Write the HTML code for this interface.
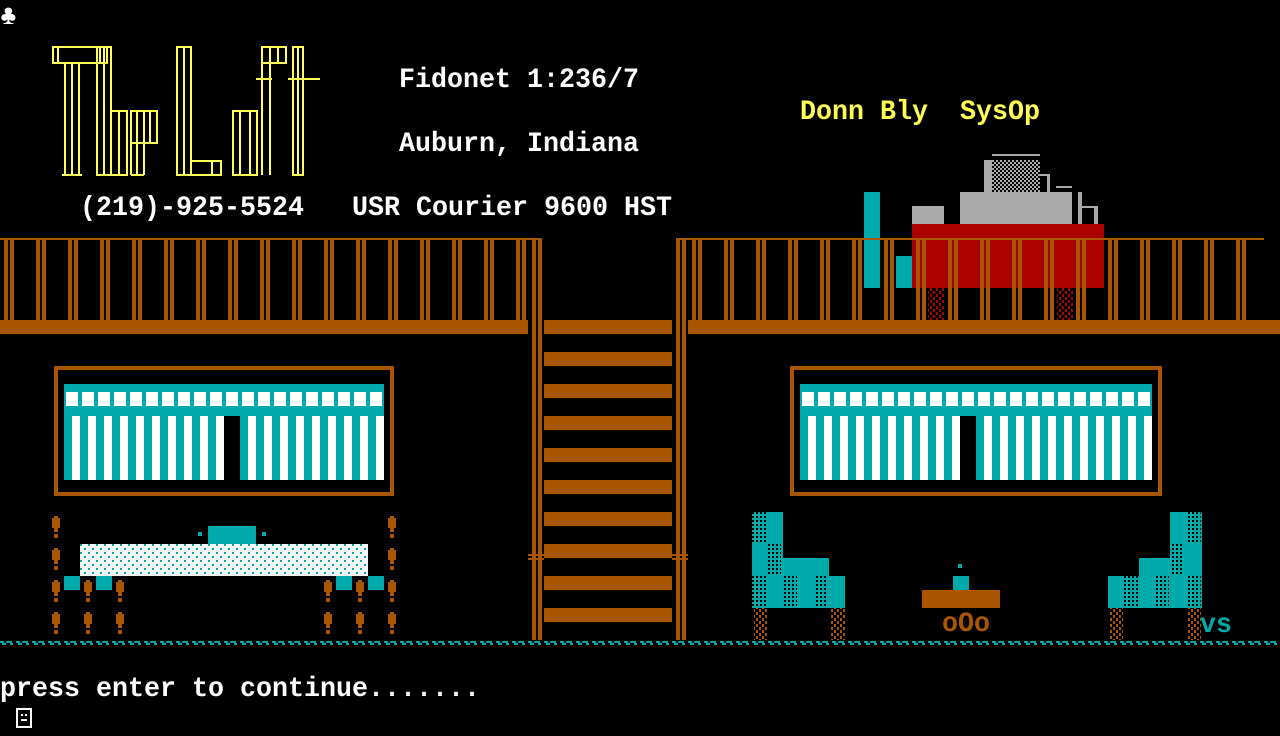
<!DOCTYPE html>
<html><head><meta charset="utf-8"><style>
html,body{margin:0;padding:0;background:#000;width:1280px;height:736px;overflow:hidden}
svg{display:block}
text{font-family:"Liberation Mono",monospace;font-weight:bold;font-size:28px;white-space:pre}
</style></head><body>
<svg width="1280" height="736" viewBox="0 0 1280 736" xmlns="http://www.w3.org/2000/svg">
<defs>
<pattern id="balL" width="32" height="80" patternUnits="userSpaceOnUse" x="0" y="240"><rect x="4" y="0" width="4" height="80" fill="#aa5500"/><rect x="10" y="0" width="4" height="80" fill="#aa5500"/></pattern>
<pattern id="balR" width="32" height="80" patternUnits="userSpaceOnUse" x="16" y="240"><rect x="4" y="0" width="4" height="80" fill="#aa5500"/><rect x="10" y="0" width="4" height="80" fill="#aa5500"/></pattern>
<pattern id="sq" width="16" height="20" patternUnits="userSpaceOnUse" x="64" y="392"><rect x="2" y="0" width="12" height="14" fill="#fff"/></pattern>
<pattern id="st" width="16" height="20" patternUnits="userSpaceOnUse" x="64" y="0"><rect x="8" y="0" width="8" height="20" fill="#fff"/></pattern>
<pattern id="sqR" width="16" height="20" patternUnits="userSpaceOnUse" x="800" y="392"><rect x="2" y="0" width="12" height="14" fill="#fff"/></pattern>
<pattern id="stR" width="16" height="20" patternUnits="userSpaceOnUse" x="800" y="0"><rect x="8" y="0" width="8" height="20" fill="#fff"/></pattern>
<pattern id="bed" width="8" height="8" patternUnits="userSpaceOnUse"><rect width="8" height="8" fill="#fff"/><rect x="0" y="0" width="2" height="2" fill="#00aaaa"/><rect x="4" y="4" width="2" height="2" fill="#00aaaa"/></pattern>
<pattern id="cdot" width="4" height="4" patternUnits="userSpaceOnUse"><rect width="4" height="4" fill="#00aaaa"/><rect x="0" y="0" width="2" height="2" fill="#000"/></pattern>
<pattern id="bdot" width="6" height="6" patternUnits="userSpaceOnUse"><rect x="0" y="0" width="2" height="3" fill="#aa5500"/><rect x="3" y="3" width="2" height="3" fill="#aa5500"/></pattern>
<pattern id="rdot" width="6" height="6" patternUnits="userSpaceOnUse"><rect x="0" y="0" width="2" height="3" fill="#aa0000"/><rect x="3" y="3" width="2" height="3" fill="#aa0000"/></pattern>
<pattern id="chk" width="4" height="4" patternUnits="userSpaceOnUse"><rect width="4" height="4" fill="#000"/><rect width="2" height="2" fill="#aaaaaa"/><rect x="2" y="2" width="2" height="2" fill="#aaaaaa"/></pattern>
<pattern id="wave" width="16" height="6" patternUnits="userSpaceOnUse" x="0" y="641"><rect x="0" y="0" width="4" height="2" fill="#00aaaa"/><rect x="2" y="2" width="4" height="2" fill="#00aaaa"/><rect x="6" y="0" width="6" height="2" fill="#00aaaa"/><rect x="10" y="2" width="3" height="2" fill="#00aaaa"/></pattern>
<g id="post"><rect x="-4" y="0" width="8" height="10" fill="#aa5500"/><rect x="-2" y="-2" width="4" height="2" fill="#aa5500"/><rect x="-2" y="10" width="4" height="4" fill="#aa5500"/><rect x="-2" y="16" width="4" height="4" fill="#aa5500"/></g>
</defs>

<text x="0" y="24" fill="#fff" font-size="24">♣</text>

<g fill="none" stroke="#ffff55" stroke-width="2">
<rect x="53" y="47" width="54" height="16"/>
<line x1="58" y1="47" x2="58" y2="63"/><line x1="100" y1="47" x2="100" y2="63"/>
<rect x="65" y="63" width="14" height="112"/><line x1="72" y1="63" x2="72" y2="175"/>
<line x1="62" y1="175" x2="82" y2="175"/>
<rect x="97" y="47" width="14" height="128"/><line x1="104" y1="47" x2="104" y2="175"/>
<rect x="111" y="111" width="16" height="64"/><line x1="119" y1="111" x2="119" y2="175"/>
<rect x="131" y="111" width="26" height="32"/><line x1="137" y1="111" x2="137" y2="175"/><line x1="144" y1="111" x2="144" y2="175"/><line x1="150" y1="111" x2="150" y2="143"/>
<line x1="131" y1="143" x2="131" y2="175"/><line x1="131" y1="175" x2="144" y2="175"/>
<rect x="177" y="47" width="14" height="128"/><line x1="184" y1="47" x2="184" y2="175"/>
<rect x="191" y="161" width="30" height="14"/><line x1="212" y1="161" x2="212" y2="175"/>
<rect x="233" y="111" width="24" height="64"/><line x1="240" y1="111" x2="240" y2="175"/><line x1="250" y1="111" x2="250" y2="175"/>
<rect x="262" y="47" width="24" height="16"/><line x1="262" y1="63" x2="262" y2="175"/><line x1="270" y1="47" x2="270" y2="175"/><line x1="278" y1="47" x2="278" y2="63"/>
<line x1="256" y1="79" x2="272" y2="79"/>
<rect x="293" y="47" width="10" height="128"/><line x1="298" y1="47" x2="298" y2="175"/>
<line x1="288" y1="79" x2="320" y2="79"/>
</g>

<text x="399" y="87" fill="#fff" textLength="240" lengthAdjust="spacingAndGlyphs">Fidonet 1:236/7</text>
<text x="399" y="151" fill="#fff" textLength="240" lengthAdjust="spacingAndGlyphs">Auburn, Indiana</text>
<text x="80" y="215" fill="#fff" textLength="224" lengthAdjust="spacingAndGlyphs">(219)-925-5524</text>
<text x="352" y="215" fill="#fff" textLength="320" lengthAdjust="spacingAndGlyphs">USR Courier 9600 HST</text>
<text x="800" y="119" fill="#ffff55" textLength="128" lengthAdjust="spacingAndGlyphs">Donn Bly</text>
<text x="960" y="119" fill="#ffff55" textLength="80" lengthAdjust="spacingAndGlyphs">SysOp</text>

<rect x="992" y="154" width="48" height="2" fill="#aaaaaa"/>
<rect x="984" y="160" width="8" height="32" fill="#aaaaaa"/>
<rect x="992" y="160" width="48" height="32" fill="url(#chk)"/>
<rect x="1040" y="174" width="10" height="2" fill="#aaaaaa"/><rect x="1047" y="174" width="3" height="18" fill="#aaaaaa"/>
<rect x="1056" y="186" width="16" height="2" fill="#aaaaaa"/>
<rect x="960" y="192" width="112" height="32" fill="#aaaaaa"/>
<rect x="1078" y="192" width="4" height="32" fill="#aaaaaa"/><rect x="1078" y="206" width="20" height="2" fill="#aaaaaa"/><rect x="1094" y="206" width="4" height="18" fill="#aaaaaa"/>
<rect x="912" y="206" width="32" height="18" fill="#aaaaaa"/>
<rect x="912" y="224" width="192" height="64" fill="#aa0000"/>
<rect x="864" y="192" width="16" height="96" fill="#00aaaa"/>
<rect x="896" y="256" width="16" height="32" fill="#00aaaa"/>
<rect x="928" y="288" width="16" height="32" fill="url(#rdot)"/>
<rect x="1057" y="288" width="16" height="32" fill="url(#rdot)"/>

<rect x="0" y="238" width="542" height="2" fill="#aa5500"/>
<rect x="0" y="240" width="528" height="80" fill="url(#balL)"/>
<rect x="676" y="238" width="588" height="2" fill="#aa5500"/>
<rect x="688" y="240" width="560" height="80" fill="url(#balR)"/>
<rect x="0" y="320" width="528" height="14" fill="#aa5500"/>
<rect x="688" y="320" width="592" height="14" fill="#aa5500"/>

<rect x="532" y="238" width="4" height="402" fill="#aa5500"/>
<rect x="538" y="238" width="4" height="402" fill="#aa5500"/>
<rect x="676" y="238" width="4" height="402" fill="#aa5500"/>
<rect x="682" y="238" width="4" height="402" fill="#aa5500"/>
<rect x="528" y="554" width="16" height="2" fill="#aa5500"/><rect x="528" y="558" width="16" height="2" fill="#aa5500"/>
<rect x="672" y="554" width="16" height="2" fill="#aa5500"/><rect x="672" y="558" width="16" height="2" fill="#aa5500"/>
<g fill="#aa5500">
<rect x="544" y="320" width="128" height="14"/><rect x="544" y="352" width="128" height="14"/>
<rect x="544" y="384" width="128" height="14"/><rect x="544" y="416" width="128" height="14"/>
<rect x="544" y="448" width="128" height="14"/><rect x="544" y="480" width="128" height="14"/>
<rect x="544" y="512" width="128" height="14"/><rect x="544" y="544" width="128" height="14"/>
<rect x="544" y="576" width="128" height="14"/><rect x="544" y="608" width="128" height="14"/>
</g>

<rect x="56" y="368" width="336" height="126" fill="none" stroke="#aa5500" stroke-width="4"/>
<rect x="64" y="384" width="320" height="96" fill="#00aaaa"/>
<rect x="64" y="392" width="320" height="14" fill="url(#sq)"/>
<rect x="64" y="416" width="320" height="64" fill="url(#st)"/>
<rect x="224" y="416" width="16" height="64" fill="#000"/>

<rect x="792" y="368" width="368" height="126" fill="none" stroke="#aa5500" stroke-width="4"/>
<rect x="800" y="384" width="352" height="96" fill="#00aaaa"/>
<rect x="800" y="392" width="352" height="14" fill="url(#sqR)"/>
<rect x="800" y="416" width="352" height="64" fill="url(#stR)"/>
<rect x="960" y="416" width="16" height="64" fill="#000"/>

<rect x="208" y="526" width="48" height="18" fill="#00aaaa"/>
<rect x="198" y="532" width="4" height="4" fill="#00aaaa"/><rect x="262" y="532" width="4" height="4" fill="#00aaaa"/>
<rect x="80" y="544" width="288" height="32" fill="url(#bed)"/>
<rect x="64" y="576" width="16" height="14" fill="#00aaaa"/><rect x="96" y="576" width="16" height="14" fill="#00aaaa"/>
<rect x="336" y="576" width="16" height="14" fill="#00aaaa"/><rect x="368" y="576" width="16" height="14" fill="#00aaaa"/>
<use href="#post" x="56" y="518"/><use href="#post" x="56" y="550"/><use href="#post" x="56" y="582"/><use href="#post" x="56" y="614"/>
<use href="#post" x="88" y="582"/><use href="#post" x="88" y="614"/>
<use href="#post" x="120" y="582"/><use href="#post" x="120" y="614"/>
<use href="#post" x="328" y="582"/><use href="#post" x="328" y="614"/>
<use href="#post" x="360" y="582"/><use href="#post" x="360" y="614"/>
<use href="#post" x="392" y="518"/><use href="#post" x="392" y="550"/><use href="#post" x="392" y="582"/><use href="#post" x="392" y="614"/>

<rect x="752" y="512" width="31" height="96" fill="#00aaaa"/>
<rect x="783" y="558" width="46" height="50" fill="#00aaaa"/>
<rect x="829" y="576" width="16" height="32" fill="#00aaaa"/>
<rect x="752" y="512" width="14" height="32" fill="url(#cdot)"/>
<rect x="767" y="544" width="14" height="32" fill="url(#cdot)"/>
<rect x="752" y="576" width="14" height="32" fill="url(#cdot)"/>
<rect x="783" y="576" width="14" height="32" fill="url(#cdot)"/>
<rect x="814" y="576" width="14" height="32" fill="url(#cdot)"/>
<rect x="754" y="608" width="14" height="32" fill="url(#bdot)"/>
<rect x="831" y="608" width="14" height="32" fill="url(#bdot)"/>

<rect x="958" y="564" width="4" height="4" fill="#00aaaa"/>
<rect x="953" y="576" width="16" height="14" fill="#00aaaa"/>
<rect x="922" y="590" width="78" height="18" fill="#aa5500"/>
<text x="942" y="631" fill="#aa5500" font-size="22" textLength="48" lengthAdjust="spacingAndGlyphs">oOo</text>

<rect x="1170" y="512" width="32" height="96" fill="#00aaaa"/>
<rect x="1139" y="558" width="31" height="50" fill="#00aaaa"/>
<rect x="1108" y="576" width="31" height="32" fill="#00aaaa"/>
<rect x="1186" y="512" width="15" height="32" fill="url(#cdot)"/>
<rect x="1170" y="544" width="14" height="32" fill="url(#cdot)"/>
<rect x="1124" y="576" width="14" height="32" fill="url(#cdot)"/>
<rect x="1155" y="576" width="14" height="32" fill="url(#cdot)"/>
<rect x="1186" y="576" width="15" height="32" fill="url(#cdot)"/>
<rect x="1109" y="608" width="14" height="32" fill="url(#bdot)"/>
<rect x="1187" y="608" width="14" height="32" fill="url(#bdot)"/>
<text x="1200" y="632" fill="#00aaaa" font-size="24" textLength="32" lengthAdjust="spacingAndGlyphs">vs</text>

<rect x="0" y="641" width="1280" height="6" fill="url(#wave)"/>

<text x="0" y="696" fill="#fff" textLength="480" lengthAdjust="spacingAndGlyphs">press enter to continue.......</text>
<rect x="17" y="709" width="14" height="18" fill="none" stroke="#fff" stroke-width="2"/>
<rect x="21" y="714" width="2" height="2" fill="#fff"/><rect x="25" y="714" width="2" height="2" fill="#fff"/>
<rect x="21" y="719" width="6" height="2" fill="#fff"/>
</svg>
</body></html>
